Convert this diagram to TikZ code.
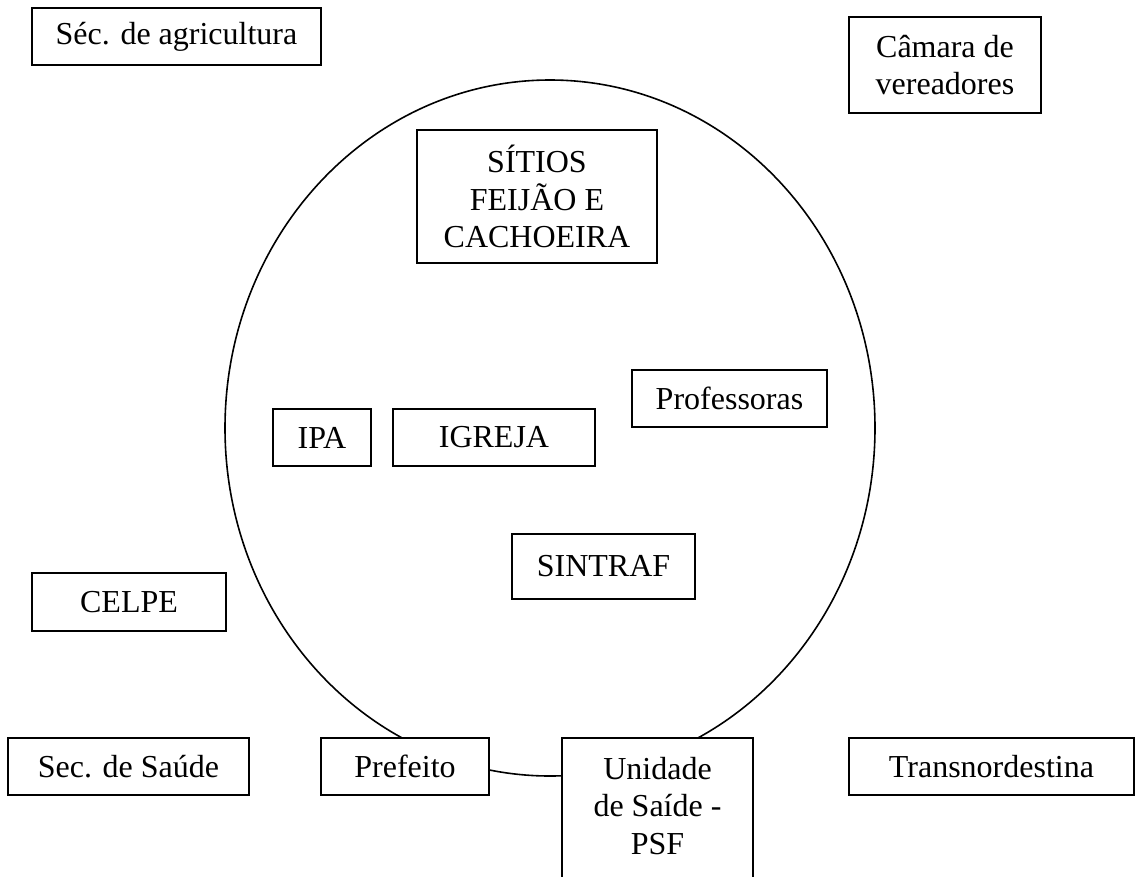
\documentclass[tikz,border=0pt]{standalone}
\usepackage{fontspec}
\setmainfont{Liberation Serif}
\begin{document}
\begin{tikzpicture}[x=0.75pt,y=-0.75pt,
  box/.style={draw, fill=white, line width=1.2pt, inner sep=0pt, align=center,
    font=\fontsize{24}{28.3}\selectfont},
  sz/.style 2 args={minimum width=#1*0.75pt, minimum height=#2*0.75pt},
  txt/.style={inner sep=0pt, align=center, font=\fontsize{24}{28.3}\selectfont},
  ring/.style={draw, line width=1.2pt}]
\useasboundingbox (0,0) rectangle (1136,876);
\coordinate (c) at (550,428);
\draw[ring] (c) ellipse [x radius=243.75pt, y radius=261pt];
\node[box, sz={289}{57}] (agri) at (176.5,36.5) {Séc. de agricultura};
\node[box, sz={192}{96}] (camara) at (945,65) {Câmara de\\vereadores};
\node[box, sz={240}{133}] (sitios) at (537,196.5) {SÍTIOS\\FEIJÃO E\\CACHOEIRA};
\node[box, sz={195}{57}] (prof) at (729.5,398.5) {Professoras};
\node[box, sz={98}{57}] (ipa) at (322,437.5) {IPA};
\node[box, sz={202}{57}] (igreja) at (494,437.5) {IGREJA};
\node[box, sz={183}{65}] (sintraf) at (603.5,566.5) {SINTRAF};
\node[box, sz={194}{58}] (celpe) at (129,602) {CELPE};
\node[box, sz={241}{57}] (saude) at (128.5,766.5) {Sec. de Saúde};
\node[box, sz={168}{57}] (prefeito) at (405,766.5) {Prefeito};
\node[box, sz={191}{172}] (psf) at (657.5,824) {};
\node[txt] (psftext) at (657.5,806) {Unidade\\de Saíde -\\PSF};
\node[box, sz={285}{57}] (trans) at (991.5,766.5) {Transnordestina};
\end{tikzpicture}
\end{document}
